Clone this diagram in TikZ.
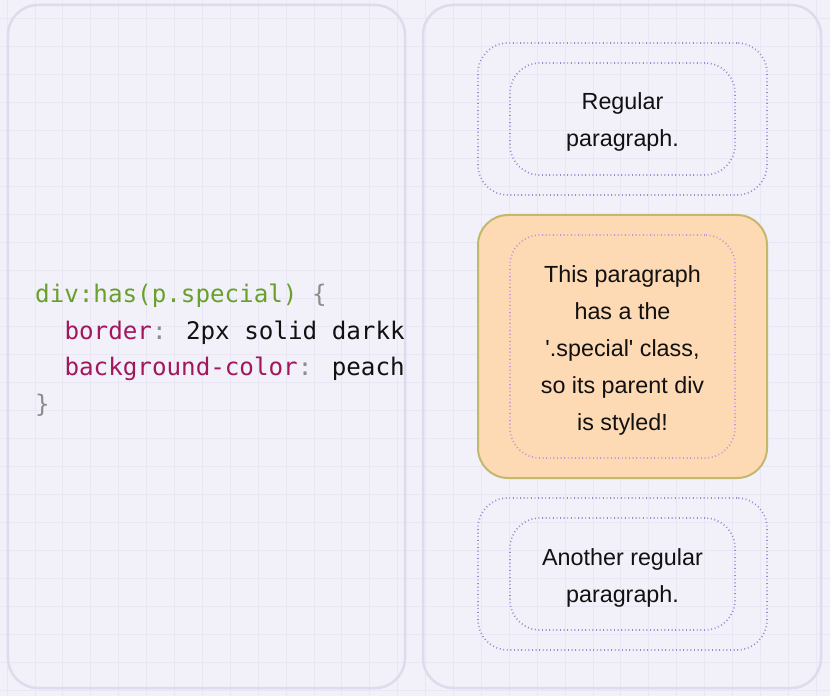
\documentclass[tikz,border=0pt]{standalone}
\usepackage{fontspec}
\setmainfont{Liberation Sans}
\newfontfamily\codefont{DejaVu Sans Mono}
\definecolor{bgc}{HTML}{F2F0F9}
\definecolor{gridc}{HTML}{E9E7F3}
\definecolor{panelc}{HTML}{DEDBEC}
\definecolor{dotc}{HTML}{948AD0}
\definecolor{dotpink}{HTML}{C393DF}
\definecolor{peach}{HTML}{FDD9B4}
\definecolor{khaki}{HTML}{C2B96C}
\definecolor{cgreen}{HTML}{68A02A}
\definecolor{cmag}{HTML}{A2175C}
\definecolor{cgray}{HTML}{8C8C8C}
\definecolor{ctext}{HTML}{111111}
\begin{document}
\begin{tikzpicture}[x=1bp,y=-1bp,
  panel/.style={draw=panelc, line width=2.5bp, rounded corners=30bp, rectangle, inner sep=0pt},
  dotbox/.style={draw=dotc, line width=1.7bp, dash pattern=on 0.9bp off 2.7bp, rounded corners=30bp, rectangle, inner sep=0pt, minimum width=#1},
  specialbox/.style={draw=khaki, fill=peach, line width=2bp, rounded corners=30bp, rectangle, inner sep=0pt, minimum width=289bp, minimum height=263bp},
  txt/.style={font=\fontsize{23.4}{28}\selectfont, text=ctext, inner sep=0pt, anchor=base},
  code/.style={font=\codefont\fontsize{24.3}{30}\selectfont, inner sep=0pt, anchor=base west}
]
\useasboundingbox (0,0) rectangle (830,696);
\fill[bgc] (0,0) rectangle (830,696);
% faint grid
\foreach \i in {0,...,29} { \draw[gridc, line width=0.8bp] ({7+27.9*\i},0) -- ({7+27.9*\i},696); }
\foreach \j in {0,...,24} { \draw[gridc, line width=0.8bp] (0,{18+28*\j}) -- (830,{18+28*\j}); }

% panels
\node[panel, minimum width=397bp, minimum height=683bp] (lp) at (206.5,346.5) {};
\node[panel, minimum width=398bp, minimum height=683bp] (rp) at (622,346.5) {};

% code
\begin{scope}
\clip (8,5) rectangle (405,690);
\node[code] (c1) at (35,302) {\textcolor{cgreen}{div:has(p.special)} \textcolor{cgray}{\{}};
\node[code] (c2) at (64.4,339) {\textcolor{cmag}{border}\textcolor{cgray}{:} \textcolor{ctext}{2px solid darkkhaki;}};
\node[code] (c3) at (64.4,375.5) {\textcolor{cmag}{background-color}\textcolor{cgray}{:} \textcolor{ctext}{peachpuff;}};
\node[code] (c4) at (35,412) {\textcolor{cgray}{\}}};
\end{scope}

% top div
\node[dotbox=289bp, minimum height=152bp] (d1) at (622.5,119) {};
\node[dotbox=225bp, minimum height=112bp] (p1) at (622.5,119) {};
\node[txt] (p1a) at (622.5,110) {Regular};
\node[txt] (p1b) at (622.5,147) {paragraph.};

% special div
\node[specialbox] (d2) at (622.5,346.5) {};
\node[dotbox=225bp, minimum height=223bp, draw=dotpink] (p2) at (622.5,346.5) {};
\node[txt] (p2a) at (622.5,282) {This paragraph};
\node[txt] (p2b) at (622.5,319) {has a the};
\node[txt] (p2c) at (622.5,356) {\textquotesingle.special\textquotesingle{} class,};
\node[txt] (p2d) at (622.5,393) {so its parent div};
\node[txt] (p2e) at (622.5,430) {is styled!};

% bottom div
\node[dotbox=289bp, minimum height=152bp] (d3) at (622.5,574) {};
\node[dotbox=225bp, minimum height=112bp] (p3) at (622.5,574) {};
\node[txt] (p3a) at (622.5,565) {Another regular};
\node[txt] (p3b) at (622.5,602) {paragraph.};
\end{tikzpicture}
\end{document}
